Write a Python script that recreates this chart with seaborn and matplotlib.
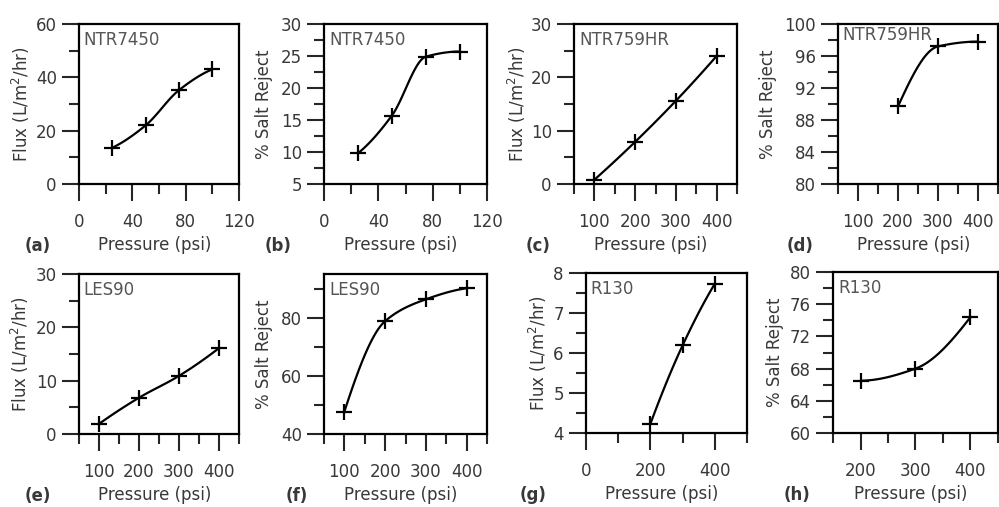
import numpy as np
import matplotlib
matplotlib.use('Agg')
import matplotlib.pyplot as plt
from matplotlib.ticker import MultipleLocator
import seaborn as sns

# data
p_ntr7450 = [25, 50, 75, 100]
flux_ntr7450 = [13.6, 22.0, 35.2, 43.0]
rej_ntr7450 = [9.8, 15.7, 24.9, 25.7]

p_hr_flux = [100, 200, 300, 400]
flux_hr = [0.8, 7.9, 15.6, 24.0]
p_hr_rej = [200, 300, 400]
rej_hr = [89.7, 97.2, 97.8]

p_les = [100, 200, 300, 400]
flux_les = [1.9, 6.8, 10.9, 16.1]
rej_les = [47.7, 78.8, 86.3, 90.1]

p_r130 = [200, 300, 400]
flux_r130 = [4.23, 6.19, 7.73]
rej_r130 = [66.5, 68.0, 74.4]


def smooth(x, y, n=80):
    # monotone cubic (Fritsch-Carlson) curve through the measured points
    x = np.asarray(x, float)
    y = np.asarray(y, float)
    h = np.diff(x)
    d = np.diff(y) / h
    m = np.zeros_like(y)
    for k in range(1, len(x) - 1):
        if d[k - 1] * d[k] > 0:
            w1 = 2 * h[k] + h[k - 1]
            w2 = h[k] + 2 * h[k - 1]
            m[k] = (w1 + w2) / (w1 / d[k - 1] + w2 / d[k])

    def end(h0, h1, d0, d1):
        s = ((2 * h0 + h1) * d0 - h0 * d1) / (h0 + h1)
        if np.sign(s) != np.sign(d0):
            return 0.0
        if np.sign(d0) != np.sign(d1) and abs(s) > 3 * abs(d0):
            return 3 * d0
        return s

    m[0] = end(h[0], h[1], d[0], d[1])
    m[-1] = end(h[-1], h[-2], d[-1], d[-2])
    xs = np.linspace(x[0], x[-1], n)
    k = np.clip(np.searchsorted(x, xs) - 1, 0, len(x) - 2)
    t = (xs - x[k]) / h[k]
    ys = ((2 * t**3 - 3 * t**2 + 1) * y[k] + (t**3 - 2 * t**2 + t) * h[k] * m[k]
          + (-2 * t**3 + 3 * t**2) * y[k + 1] + (t**3 - t**2) * h[k] * m[k + 1])
    return xs, ys


sns.set_style('ticks')
plt.rcParams['font.family'] = ['DejaVu Sans']
plt.rcParams['font.size'] = 12

TXT = '#383838'
FLUX = 'Flux (L/m$^2$/hr)'
REJ = '% Salt Reject'

W, H = 999, 507
fig = plt.figure(figsize=(W / 100, H / 100), dpi=100)

# (x, y, title, letter, ylabel, box px (l, t, r, b), xlim, xmaj, xmin, ylim, ymaj, ymin, ylabel x, letter x, title y)
panels = [
    (p_ntr7450, flux_ntr7450, 'NTR7450', '(a)', FLUX, (79, 24, 239, 184), (0, 120), 40, 20, (0, 60), 20, 10, -0.36, 38, 0.9),
    (p_ntr7450, rej_ntr7450, 'NTR7450', '(b)', REJ, (324, 24, 487, 184), (0, 120), 40, 20, (5, 30), 5, 2.5, -0.37, 278, 0.9),
    (p_hr_flux, flux_hr, 'NTR759HR', '(c)', FLUX, (574, 24, 737, 184), (50, 450), 100, 50, (0, 30), 10, 5, -0.35, 538, 0.9),
    (p_hr_rej, rej_hr, 'NTR759HR', '(d)', REJ, (838, 24, 998, 184), (50, 450), 100, 50, (80, 100), 4, 2, -0.44, 800, 0.93),
    (p_les, flux_les, 'LES90', '(e)', FLUX, (79, 274, 239, 434), (50, 450), 100, 50, (0, 30), 10, 5, -0.37, 38, 0.9),
    (p_les, rej_les, 'LES90', '(f)', REJ, (324, 274, 487, 434), (50, 450), 100, 50, (40, 95), 20, 10, -0.37, 297, 0.9),
    (p_r130, flux_r130, 'R130', '(g)', FLUX, (586, 273, 747, 433), (0, 500), 200, 100, (4, 8), 1, 0.5, -0.30, 533, 0.9),
    (p_r130, rej_r130, 'R130', '(h)', REJ, (833, 272, 998, 433), (150, 450), 100, 50, (60, 80), 4, 2, -0.35, 797, 0.9),
]

for (x, y, title, letter, ylab, box, xlim, xmaj, xmin, ylim, ymaj, ymin,
     ylx, letx, ty) in panels:
    l, t, r, b = box
    ax = fig.add_axes([l / W, 1 - b / H, (r - l) / W, (b - t) / H])
    xs, ys = smooth(x, y)
    sns.lineplot(x=xs, y=ys, ax=ax, color='black', lw=1.6)
    sns.scatterplot(x=x, y=y, ax=ax, marker='+', s=130, color='black',
                    linewidth=1.6)
    ax.set_xlim(*xlim)
    ax.set_ylim(*ylim)
    ax.xaxis.set_major_locator(MultipleLocator(xmaj))
    ax.xaxis.set_minor_locator(MultipleLocator(xmin))
    ax.yaxis.set_major_locator(MultipleLocator(ymaj))
    ax.yaxis.set_minor_locator(MultipleLocator(ymin))
    for s in ax.spines.values():
        s.set_linewidth(1.6)
        s.set_color('black')
    ax.tick_params(which='major', direction='out', length=12, width=1.5,
                   labelsize=12, labelcolor=TXT)
    ax.tick_params(which='minor', direction='out', length=7, width=1.5)
    ax.tick_params(axis='x', which='major', pad=9)
    ax.tick_params(axis='y', which='major', pad=4)

    ax.set_xlabel('Pressure (psi)', color=TXT, fontsize=12)
    ax.xaxis.set_label_coords(0.47, -61 / (b - t))
    ax.xaxis.label.set_va('center')
    ax.set_ylabel(ylab, color=TXT, fontsize=12)
    ax.yaxis.set_label_coords(ylx, 0.5)
    ax.yaxis.label.set_va('center')

    ax.text(0.03, ty, title, transform=ax.transAxes, va='center', ha='left',
            fontsize=12, color='#555555')
    fig.text(letx / W, 1 - (b + 62) / H, letter, ha='center', va='center',
             fontsize=12, fontweight='bold', color=TXT)

fig.savefig('out.png', dpi=100, facecolor='white')
